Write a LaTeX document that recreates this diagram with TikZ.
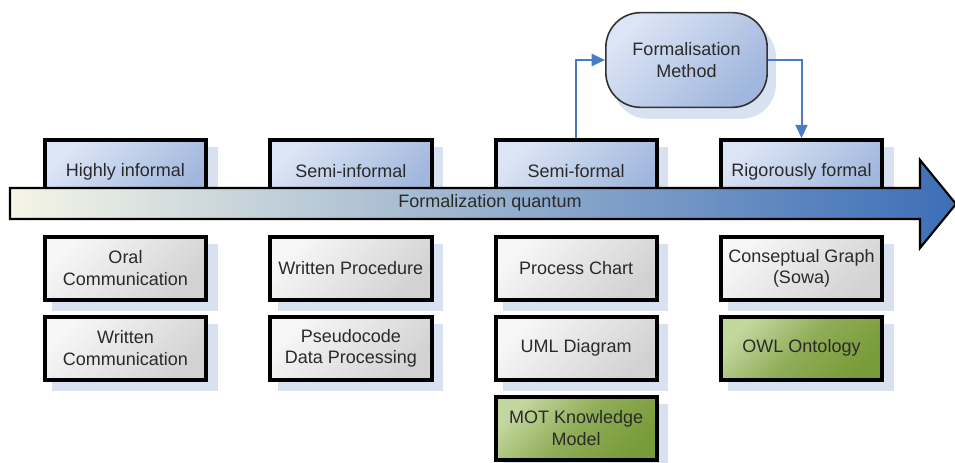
\documentclass[tikz,border=0pt]{standalone}
\usepackage{fontspec}
\setmainfont{Liberation Sans}
\usetikzlibrary{positioning,backgrounds,arrows.meta}

\definecolor{shadowblue}{HTML}{D8E1F0}
\definecolor{lvllight}{HTML}{DCE5F5}
\definecolor{lvldark}{HTML}{A0B6DD}
\definecolor{greylight}{HTML}{F7F7F7}
\definecolor{greydark}{HTML}{D2D2D2}
\definecolor{greenlight}{HTML}{C2D79E}
\definecolor{greendark}{HTML}{799B38}
\definecolor{barlight}{HTML}{F5F5E6}
\definecolor{bardark}{HTML}{3C6EB7}
\definecolor{flowblue}{HTML}{4A7CC6}
\definecolor{textgrey}{HTML}{2A2A2A}

\begin{document}
\begin{tikzpicture}[
    x=0.75pt, y=-0.75pt,
    node distance = 10pt and 45pt,
    box/.style={rectangle, draw=black, line width=3pt, minimum width=121pt,
      minimum height=47pt, align=center, text=textgrey,
      font=\fontsize{13.5}{16}\selectfont},
    levelbox/.style={box, top color=lvllight, bottom color=lvldark, shading angle=45},
    greybox/.style={box, top color=greylight, bottom color=greydark, shading angle=45},
    greenbox/.style={box, top color=greenlight, bottom color=greendark, middle color=greendark!70!greenlight, shading angle=45},
    methodnode/.style={rectangle, rounded corners=26pt, draw=black!80, line width=1.2pt,
      minimum width=121pt, minimum height=71pt, align=center, text=textgrey,
      top color=lvllight, bottom color=lvldark, shading angle=45,
      font=\fontsize{13.5}{16}\selectfont},
    flow/.style={draw=flowblue, line width=1.5pt, -{Triangle[length=10pt, width=9pt]}},
  ]
  \useasboundingbox (0,0) rectangle (955,463);

  % formalisation levels
  \node[levelbox] (hi) at (125.5,171.5) {Highly informal};
  \node[levelbox] (si) [right=of hi] {Semi-informal};
  \node[levelbox] (sf) [right=of si] {Semi-formal};
  \node[levelbox] (rf) [right=of sf] {Rigorously formal};

  % quantum arrow
  \shade[left color=barlight, right color=bardark, draw=black, line width=1.6pt]
    (10,188) -- (920,188) -- (920,160) -- (956,204) -- (920,248) -- (920,219) -- (10,219) -- cycle;
  \node[font=\fontsize{13.5}{16}\selectfont, text=textgrey] (quantum) at (490,203) {Formalization quantum};

  % representations
  \node[greybox] (oral) [below=22.5pt of hi] {Oral\\Communication};
  \node[greybox] (written) [below=of oral] {Written\\Communication};
  \node[greybox] (wproc) [below=22.5pt of si] {Written Procedure};
  \node[greybox] (pseudo) [below=of wproc] {Pseudocode\\Data Processing};
  \node[greybox] (pchart) [below=22.5pt of sf] {Process Chart};
  \node[greybox] (uml) [below=of pchart] {UML Diagram};
  \node[greenbox] (mot) [below=of uml] {MOT Knowledge\\Model};
  \node[greybox] (cgraph) [below=22.5pt of rf] {Conseptual Graph\\(Sowa)};
  \node[greenbox] (owl) [below=of cgraph] {OWL Ontology};

  % method loop
  \node[methodnode] (method) at (686.5,60) {Formalisation\\Method};
  \draw[flow] (sf.north) |- (method.west);
  \draw[flow] (method.east) -| (rf.north);

  % shadows
  \begin{scope}[on background layer]
    \foreach \n in {hi,si,sf,rf,oral,written,wproc,pseudo,pchart,uml,mot,cgraph,owl}
      \fill[shadowblue] ([shift={(7pt,-7pt)}]\n.south west) rectangle ([shift={(7pt,-7pt)}]\n.north east);
    \fill[shadowblue, rounded corners=26pt] ([shift={(6pt,-8pt)}]method.south west) rectangle ([shift={(6pt,-8pt)}]method.north east);
  \end{scope}
\end{tikzpicture}
\end{document}
